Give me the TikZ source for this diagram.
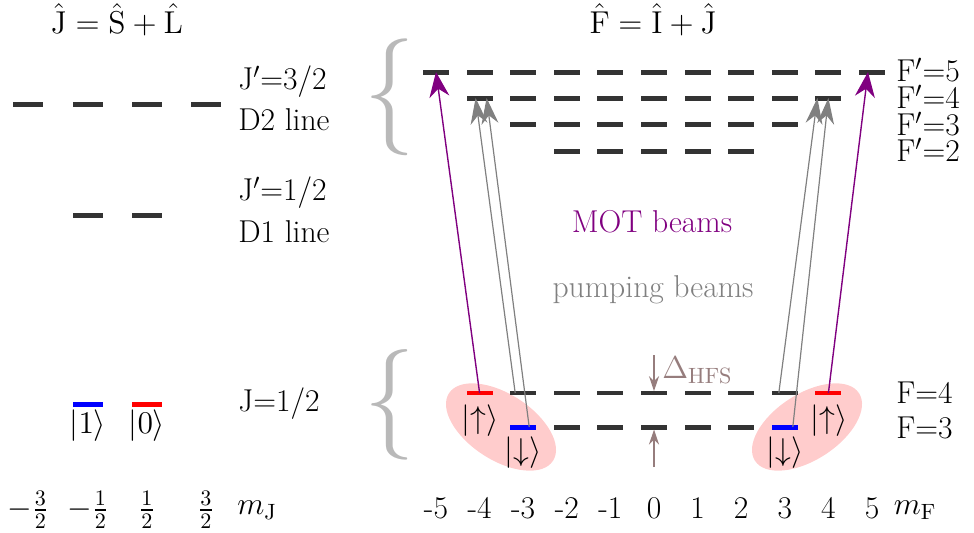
\RequirePackage{fix-cm}
\documentclass[tikz,border=0pt]{standalone}
\usepackage{amsmath,amssymb}
\usepackage{xcolor}
\usepackage{graphicx}
\usepackage{tikz}
\usetikzlibrary{calc,arrows.meta}

\definecolor{lvlgray}{RGB}{51,51,51}
\definecolor{motpurple}{RGB}{128,0,128}
\definecolor{pumpgray}{RGB}{128,128,128}
\definecolor{hfsbrown}{RGB}{150,125,125}
\definecolor{cloudred}{RGB}{255,204,204}
\definecolor{bracegray}{RGB}{185,185,185}

\begin{document}
\begin{tikzpicture}[x=0.5pt, y=0.5pt, font=\fontsize{15.8}{18.5}\selectfont]
\tikzset{
  lvl/.style={fill=lvlgray, minimum width=13pt, minimum height=2.5pt, inner sep=0pt, outer sep=0pt},
  lvlJ/.style={lvl, minimum width=15pt},
  thin lvl/.style={lvl, minimum height=1.8pt},
  mot/.style={-{Stealth[length=12.5pt, width=10pt]}, motpurple, line width=0.7pt},
  pump/.style={-{Stealth[length=13pt, width=8.5pt]}, pumpgray, line width=0.6pt},
  hfs/.style={-{Stealth[length=7.5pt, width=5pt]}, hfsbrown, line width=0.7pt},
  brace/.style={bracegray, inner sep=0pt},
  lab/.style={anchor=west, inner sep=0pt},
}
\useasboundingbox (0,0) rectangle (974,532);

% fine structure (left)
\node (jtitle) at (117,512) {$\hat{\mathrm{J}}=\hat{\mathrm{S}}+\hat{\mathrm{L}}$};
\foreach \i/\x in {1/28,2/88,3/147,4/206}
  \node[lvlJ] (jd2\i) at (\x,428) {};
\node[lvlJ] (jd12) at (88,317) {};
\node[lvlJ] (jd13) at (147,317) {};
\node[lvlJ, fill=blue] (qone) at (88,128) {};
\node[lvlJ, fill=red] (qzero) at (147,128) {};
\node (kone) at (88,106) {$|1\rangle$};
\node (kzero) at (147,106) {$|0\rangle$};
\node[lab] (ljd2) at (238,450) {J$'$=3/2};
\node[lab] (ld2) at (238,412) {D2 line};
\node[lab] (ljd1) at (238,339) {J$'$=1/2};
\node[lab] (ld1) at (238,300) {D1 line};
\node[lab] (ljg) at (238,128) {J=1/2};
\node (mj1) at (28,22) {$-\frac{3}{2}$};
\node (mj2) at (88,22) {$-\frac{1}{2}$};
\node (mj3) at (147,22) {$\frac{1}{2}$};
\node (mj4) at (206,22) {$\frac{3}{2}$};
\node (mjlab) at (257,22) {$m_\mathrm{J}$};

% hyperfine structure (right)
\node (ftitle) at (653,512) {$\hat{\mathrm{F}}=\hat{\mathrm{I}}+\hat{\mathrm{J}}$};
\fill[cloudred, rotate around={-33:(501,105)}] (501,105) ellipse [x radius=62, y radius=33];
\fill[cloudred, rotate around={33:(807,105)}] (807,105) ellipse [x radius=62, y radius=33];
\node[brace] (bup) at (390,435) {\scalebox{3.2}[3.7]{$\{$}};
\node[brace] (bdown) at (390,127) {\scalebox{3.2}[3.5]{$\{$}};

\foreach \k in {-5,...,5} \node[lvl] (ep5\k) at ({654+43.6*(\k)},460) {};
\foreach \k in {-4,...,4} \node[lvl] (ep4\k) at ({654+43.6*(\k)},434) {};
\foreach \k in {-3,...,3} \node[lvl] (ep3\k) at ({654+43.6*(\k)},408) {};
\foreach \k in {-2,...,2} \node[lvl] (ep2\k) at ({654+43.6*(\k)},381) {};
\foreach \k in {-3,...,3} \node[thin lvl] (g4\k) at ({654+43.6*(\k)},139) {};
\foreach \k in {-2,...,2} \node[lvl] (g3\k) at ({654+43.6*(\k)},105) {};
\node[thin lvl, fill=red] (g4-4) at (479.6,139) {};
\node[thin lvl, fill=red] (g44) at (828.4,139) {};
\node[lvl, fill=blue] (g3-3) at (523.2,105) {};
\node[lvl, fill=blue] (g33) at (784.8,105) {};

\node[lab] (fp5) at (896,462) {F$'$=5};
\node[lab] (fp4) at (896,435) {F$'$=4};
\node[lab] (fp3) at (896,408) {F$'$=3};
\node[lab] (fp2) at (896,382) {F$'$=2};
\node[lab] (f4) at (896,139) {F=4};
\node[lab] (f3) at (896,104) {F=3};

\draw[mot] (g4-4.center) -- (ep5-5.center);
\draw[mot] (g44.center) -- ([xshift=-2pt]ep55.center);
\draw[pump] ([xshift=-4pt]g4-3.center) -- ([xshift=-2pt]ep4-4.center);
\draw[pump] ([xshift=3pt]g3-3.center) -- ([xshift=3.5pt]ep4-4.center);
\draw[pump] ([xshift=-3pt]g43.center) -- ([xshift=-5.5pt]ep44.center);
\draw[pump] ([xshift=4pt]g33.center) -- (ep44.center);

\node[motpurple] (motlab) at (652,310) {MOT beams};
\node[pumpgray] (pumplab) at (653,242) {pumping beams};

\coordinate (dtop) at (654,177);
\coordinate (dbot) at (654,65);
\draw[hfs] (dtop) -- (g40.north);
\draw[hfs] (dbot) -- (g30.south);
\node[lab, hfsbrown] (dhfs) at (662,162) {$\Delta_\mathrm{HFS}$};

\node (upl) at (480,111) {$|{\uparrow}\rangle$};
\node (dnl) at (523,79) {$|{\downarrow}\rangle$};
\node (dnr) at (785,79) {$|{\downarrow}\rangle$};
\node (upr) at (829,111) {$|{\uparrow}\rangle$};
\foreach \k in {-5,...,5} \node (mf\k) at ({654+43.6*(\k)},24) {\k};
\node (mflab) at (915,22) {$m_\mathrm{F}$};
\end{tikzpicture}
\end{document}
